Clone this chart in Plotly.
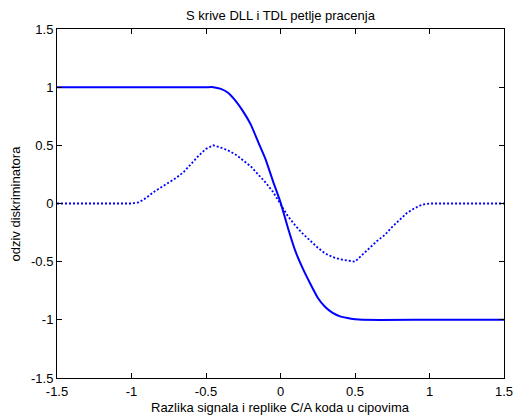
import plotly.graph_objects as go

# Solid curve (DLL S-curve)
x_dll = [-1.5, -1.0, -0.5, -0.45, -0.4, -0.35, -0.3, -0.25, -0.2, -0.15, -0.1, -0.05, 0.0,
         0.05, 0.1, 0.15, 0.2, 0.25, 0.3, 0.35, 0.4, 0.45, 0.5, 0.55, 1.0, 1.5]
y_dll = [1.0, 1.0, 1.0, 1.0, 0.985, 0.95, 0.88, 0.79, 0.68, 0.53, 0.38, 0.19, 0.01,
         -0.21, -0.41, -0.56, -0.69, -0.81, -0.89, -0.94, -0.97, -0.985, -0.995, -1.0, -1.0, -1.0]

# Dotted curve (TDL S-curve)
x_tdl = [-1.5, -1.0, -0.95, -0.9, -0.85, -0.8, -0.75, -0.7, -0.65, -0.6, -0.55, -0.5,
         -0.45, -0.4, -0.35, -0.3, -0.25, -0.2, -0.15, -0.1, -0.05, 0.0,
         0.05, 0.1, 0.15, 0.2, 0.25, 0.3, 0.35, 0.4, 0.45, 0.5,
         0.55, 0.6, 0.65, 0.7, 0.75, 0.8, 0.85, 0.9, 0.95, 1.0, 1.5]
y_tdl = [0.0, 0.0, 0.01, 0.05, 0.10, 0.14, 0.18, 0.22, 0.27, 0.34, 0.41, 0.47,
         0.50, 0.48, 0.455, 0.42, 0.37, 0.32, 0.25, 0.18, 0.10, 0.0,
         -0.11, -0.19, -0.26, -0.32, -0.38, -0.43, -0.46, -0.48, -0.49, -0.50,
         -0.44, -0.38, -0.32, -0.27, -0.20, -0.14, -0.08, -0.04, -0.01, 0.0, 0.0]

tick_vals = [-1.5, -1, -0.5, 0, 0.5, 1, 1.5]
tick_text = ["-1.5", "-1", "-0.5", "0", "0.5", "1", "1.5"]

title_text = "S krive DLL i TDL petlje pracenja"
xlabel = "Razlika signala i replike C/A koda u cipovima"
ylabel = "odziv diskriminatora"

font_family = "Liberation Sans, Arial, sans-serif"
fs = 13

fig_w, fig_h = 513, 419

fig = go.Figure()
fig.add_trace(go.Scatter(x=x_dll, y=y_dll, mode="lines",
                         line=dict(color="#0000ff", width=2, shape="spline", smoothing=0.5),
                         showlegend=False))
fig.add_trace(go.Scatter(x=x_tdl, y=y_tdl, mode="lines",
                         line=dict(color="#0000ff", width=1.8, dash="2px,2px"),
                         showlegend=False))

axis_common = dict(
    showgrid=False, zeroline=False, showline=True, linecolor="black", linewidth=1,
    mirror="ticks", ticks="inside", ticklen=5, tickcolor="black",
    tickfont=dict(family=font_family, size=fs, color="black"),
    tickvals=tick_vals, ticktext=tick_text, automargin=False,
    ticklabeloverflow="allow",
)

fig.update_xaxes(range=[-1.5, 1.5], ticklabelstandoff=1, **axis_common)
fig.update_yaxes(range=[-1.5, 1.5], **axis_common)

fig.update_layout(
    width=fig_w, height=fig_h, autosize=False,
    margin=dict(l=57, r=9, t=29, b=41),
    paper_bgcolor="white", plot_bgcolor="white",
    font=dict(family=font_family, size=fs, color="black"),
    title=dict(text=title_text, x=0.5, xref="paper", xanchor="center",
               y=1 - 15 / fig_h, yref="container", yanchor="middle",
               font=dict(family=font_family, size=fs, color="black")),
    annotations=[
        dict(text=xlabel, xref="paper", yref="paper", x=0.5, y=(378 - 407) / 349,
             xanchor="center", yanchor="middle", showarrow=False,
             font=dict(family=font_family, size=fs, color="black")),
        dict(text=ylabel, xref="paper", yref="paper", x=(15 - 57) / 447, y=0.5,
             xanchor="center", yanchor="middle", textangle=-90, showarrow=False,
             font=dict(family=font_family, size=fs, color="black")),
    ],
)

fig.write_html(
    "out.html",
    config={"displayModeBar": False, "responsive": False},
    post_script="document.body.style.margin='0px';document.documentElement.style.overflow='hidden';document.body.style.overflow='hidden';",
)
